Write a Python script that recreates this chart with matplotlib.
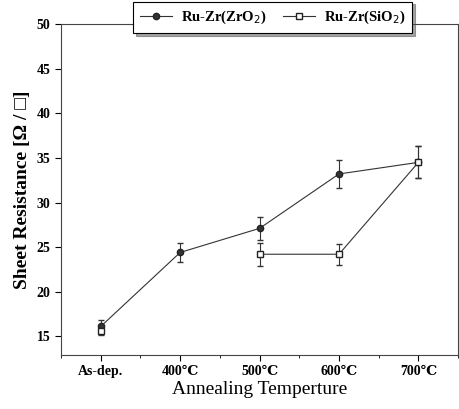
import numpy as np
import matplotlib
matplotlib.use('Agg')
import matplotlib.pyplot as plt
from matplotlib.ticker import MultipleLocator

plt.rcParams['font.family'] = ['Liberation Serif', 'DejaVu Serif']

# Data
labels = ['As-dep.', '400\u2103', '500\u2103', '600\u2103', '700\u2103']
zro2 = [16.1, 24.4, 27.1, 33.2, 34.5]
zro2_err = [0.7, 1.1, 1.3, 1.6, 1.8]
sio2 = [15.6, np.nan, 24.2, 24.2, 34.5]
sio2_err = [0.5, np.nan, 1.3, 1.2, 1.8]

x = np.arange(len(labels))

fig = plt.figure(figsize=(4.59, 4.09), dpi=100)
ax = fig.add_axes([0.133, 0.132, 0.865, 0.809])

# error bars first, lines/markers on top
ax.errorbar(x, zro2, yerr=zro2_err, fmt='none', ecolor='#333333',
            elinewidth=0.8, capsize=2.5)
ax.errorbar(x, sio2, yerr=sio2_err, fmt='none', ecolor='#333333',
            elinewidth=0.8, capsize=2.5)
ax.plot(x, zro2, color='#333333', lw=0.8, marker='o', ms=4.5,
        mfc='#333333', mec='#222222', label='Ru-Zr(ZrO$_2$)')
ax.plot(x, sio2, color='#333333', lw=0.8, marker='s', ms=4.5,
        mfc='white', mec='#222222', label='Ru-Zr(SiO$_2$)')

ax.set_xlim(-0.5, 4.5)
ax.set_ylim(12.9, 50)
ax.set_xticks(x)
ax.set_xticklabels(labels, fontsize=10, fontweight='bold')
ax.xaxis.set_minor_locator(MultipleLocator(0.5))
ax.yaxis.set_major_locator(MultipleLocator(5))
for lab in ax.get_yticklabels():
    lab.set_fontsize(10)
    lab.set_fontweight('bold')
ax.tick_params(which='major', direction='out', length=4, width=0.8)
ax.tick_params(which='minor', direction='out', length=2, width=0.6)

for s in ax.spines.values():
    s.set_linewidth(0.8)
    s.set_color('#444444')

ax.set_ylabel('Sheet Resistance [\u03a9 / \u25a1]', fontsize=14, fontweight='bold')
ax.set_xlabel('Annealing Temperture', fontsize=14, labelpad=2)

leg = ax.legend(loc='center', bbox_to_anchor=(0.533, 1.02), ncol=2,
                frameon=True, fancybox=False, shadow=True, edgecolor='black',
                prop={'weight': 'bold', 'size': 10.5}, handlelength=2.2,
                handletextpad=0.6, columnspacing=1.1, borderpad=0.5)
leg.get_frame().set_linewidth(0.8)

fig.savefig('out.png', dpi=100)
